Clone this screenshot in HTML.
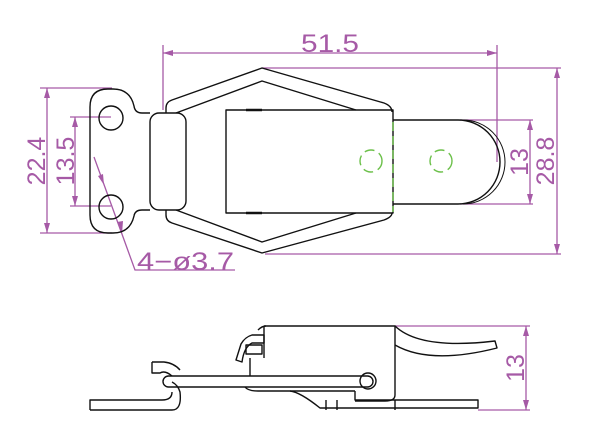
<!DOCTYPE html>
<html><head><style>html,body{margin:0;background:#fff}svg{display:block}</style></head><body>
<svg width="616" height="438" viewBox="0 0 616 438" xmlns="http://www.w3.org/2000/svg" font-family="Liberation Sans, sans-serif">
<g stroke="#a65aa6" stroke-width="1.3" fill="none">
<line x1="163" y1="45" x2="163" y2="110"/><line x1="497" y1="45" x2="497" y2="162"/>
<line x1="163" y1="53" x2="497" y2="53"/>
<line x1="262" y1="68" x2="561" y2="68"/><line x1="265" y1="254" x2="561" y2="254"/>
<line x1="557" y1="68" x2="557" y2="254"/>
<line x1="460" y1="120" x2="533" y2="120"/><line x1="460" y1="204" x2="533" y2="204"/>
<line x1="530" y1="120" x2="530" y2="204"/>
<line x1="40" y1="88" x2="112" y2="88"/><line x1="40" y1="233" x2="112" y2="233"/>
<line x1="47" y1="88" x2="47" y2="233"/>
<line x1="70" y1="117" x2="111" y2="117"/><line x1="70" y1="206" x2="111" y2="206"/>
<line x1="75" y1="117" x2="75" y2="206"/>
<polyline points="94,157 135,270 235,270"/>
<line x1="395" y1="326" x2="530" y2="326"/><line x1="478" y1="410" x2="530" y2="410"/>
<line x1="526" y1="326" x2="526" y2="410"/>
</g>
<g fill="#a65aa6">
<path d="M163,53 l10,-3 v6z"/><path d="M497,53 l-10,-3 v6z"/>
<path d="M557,68 l-3,10 h6z"/><path d="M557,254 l-3,-10 h6z"/>
<path d="M530,120 l-3,10 h6z"/><path d="M530,204 l-3,-10 h6z"/>
<path d="M47,88 l-3,10 h6z"/><path d="M47,233 l-3,-10 h6z"/>
<path d="M75,117 l-3,10 h6z"/><path d="M75,206 l-3,-10 h6z"/>
<path d="M104,185 l-6,-9 l5,-2z"/><path d="M122,234 l-5,-12 l6,-1z"/>
<path d="M526,326 l-3,10 h6z"/><path d="M526,410 l-3,-10 h6z"/>
</g>
<g fill="#a65aa6" font-size="25">
<text x="330" y="52" text-anchor="middle" textLength="58" lengthAdjust="spacingAndGlyphs">51.5</text>
<text x="137" y="270" textLength="97" lengthAdjust="spacingAndGlyphs">4−ø3.7</text>
<text transform="translate(554,161) rotate(-90)" text-anchor="middle">28.8</text>
<text transform="translate(528,162) rotate(-90)" text-anchor="middle">13</text>
<text transform="translate(45,161) rotate(-90)" text-anchor="middle">22.4</text>
<text transform="translate(74,161) rotate(-90)" text-anchor="middle">13.5</text>
<text transform="translate(524,368) rotate(-90)" text-anchor="middle">13</text>
</g>
<g stroke="#111" stroke-width="1.4" fill="none" stroke-linejoin="round">
<path d="M150,113 H142 Q135,113 134,106 Q130,89 113,89 H108 Q90,89 90,107 V215 Q90,233 108,233 H113 Q130,233 134,216 Q135,210 142,210 H150"/>
<circle cx="111" cy="118" r="12"/><circle cx="111" cy="207" r="12"/>
<rect x="150" y="113" width="36" height="97" rx="9"/>
<path d="M166,113 V108 Q166,102 172,100 L262,68 L384,103 Q392,106 392,112"/>
<path d="M176,113 L262,81 L356,110"/>
<path d="M166,210 V215 Q166,221 172,223 L262,253 L384,220 Q392,217 392,213"/>
<path d="M176,210 L262,242 L356,213"/>
<rect x="226" y="110" width="167" height="103"/>
<line x1="246" y1="110" x2="262" y2="110" stroke-width="2.5"/><line x1="246" y1="213" x2="262" y2="213" stroke-width="2.5"/>
<path d="M393,120 H458 A42,42 0 0 1 458,204 H393"/>
<path d="M463,120 A42,42 0 0 1 463,204" stroke-width="1"/>
</g>
<g stroke="#6cc04a" stroke-width="1.4" fill="none" stroke-dasharray="9,5">
<line x1="393" y1="122" x2="393" y2="212"/>
<circle cx="371" cy="161" r="11" stroke-dasharray="10,5"/><circle cx="441" cy="161" r="11" stroke-dasharray="10,5"/>
</g>
<g stroke="#111" stroke-width="1.4" fill="none" stroke-linejoin="round">
<path d="M90,410 H172 Q182,410 180,392 Q178,385 172,382"/>
<path d="M90,410 V400 H162 Q172,400 172,392"/>
<path d="M152,362 V373 H160 Q165,370 172,376"/>
<path d="M152,362 H164 Q174,363 180,370"/>
<rect x="163" y="376" width="210" height="11" rx="5.5"/>
<circle cx="368" cy="381" r="8"/>
<path d="M241,344 L236,360 L242,362 Q244,347 252,343 H264 V335 H252 Q245,337 241,344 Z"/>
<rect x="246" y="345" width="16" height="9"/>
<path d="M264,326 H395 V395 Q395,401 385,401 H355"/>
<path d="M258,330 Q262,326 266,326"/>
<line x1="264" y1="326" x2="264" y2="358"/>
<path d="M250,358 V376"/>
<path d="M245,387 Q248,391 258,391 H355"/>
<path d="M290,391 Q300,392 320,408 H478 V400 H355 V391"/>
<line x1="326" y1="400" x2="326" y2="410"/><line x1="337" y1="400" x2="337" y2="410"/>
<line x1="395" y1="400" x2="395" y2="410"/>
<path d="M395,326 Q420,350 495,341 L497,348 Q430,365 395,345"/>
</g>
</svg>
</body></html>
